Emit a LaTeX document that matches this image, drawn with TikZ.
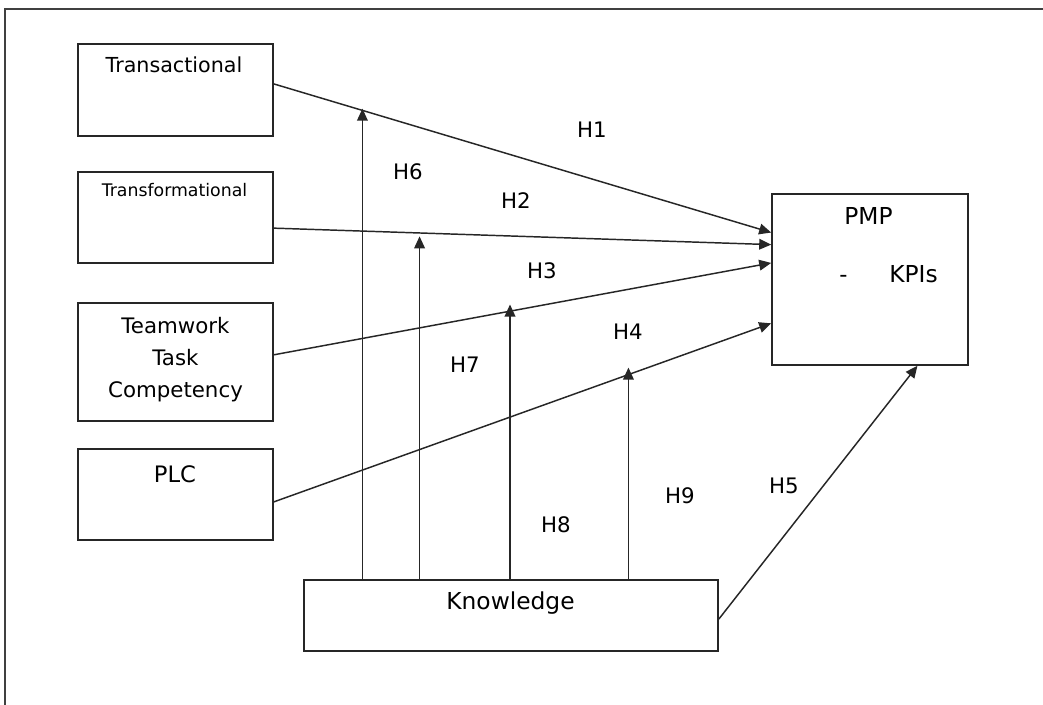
\documentclass[tikz,border=0pt]{standalone}
\usepackage{fontspec}
\setmainfont{DejaVu Sans}
\usetikzlibrary{arrows.meta,calc}
\begin{document}
\begin{tikzpicture}[x=0.75pt,y=-0.75pt,
  box/.style={draw=black!85,line width=1.2pt,rectangle,inner sep=0pt,fill=white},
  conn/.style={draw=black!85,line width=1.1pt,-{Triangle[length=9pt,width=8pt]}},
  frameline/.style={draw=black!75,line width=1.7pt},
  lbl/.style={anchor=base,inner sep=0pt,font=\fontsize{16}{19}\selectfont},
  hyp/.style={anchor=base,inner sep=0pt,font=\fontsize{16}{19}\selectfont}]
\useasboundingbox (0,0) rectangle (1043,705);
\fill[white] (0,0) rectangle (1043,705);
\draw[frameline] (5,705) -- (5,9) -- (1043,9);

% boxes
\node[box,minimum width=146.25pt,minimum height=69pt] (trans) at (175.5,90) {};
\node[box,minimum width=146.25pt,minimum height=68.25pt] (transf) at (175.5,217.5) {};
\node[box,minimum width=146.25pt,minimum height=88.5pt] (team) at (175.5,362) {};
\node[box,minimum width=146.25pt,minimum height=68.25pt] (plc) at (175.5,494.5) {};
\node[box,minimum width=147pt,minimum height=128.25pt] (pmp) at (870,279.5) {};
\node[box,minimum width=310.5pt,minimum height=53.25pt] (know) at (511,615.5) {};

% box texts
\node[lbl,font=\fontsize{15.5}{18}\selectfont] (tTrans) at (174,72.5) {Transactional};
\node[lbl,font=\fontsize{13}{16}\selectfont] (tTransf) at (174.5,197) {Transformational};
\node[lbl,align=center,anchor=base,font=\fontsize{16}{24}\selectfont] (tTeam) at (175.5,398) {Teamwork\\Task\\Competency};
\node[lbl,font=\fontsize{17}{20}\selectfont] (tPlc) at (175,483) {PLC};
\node[lbl,font=\fontsize{17.5}{20}\selectfont] (tPmp) at (868.5,225) {PMP};
\node[lbl,font=\fontsize{17}{20}\selectfont] (tDash) at (843.5,283) {-};
\node[lbl,font=\fontsize{17.5}{20}\selectfont] (tKpi) at (913.5,283) {KPIs};
\node[lbl,font=\fontsize{17.5}{20}\selectfont] (tKnow) at (510.5,610) {Knowledge};

% main connectors
\draw[conn] ($(trans.north east)!0.435!(trans.south east)$) -- coordinate[pos=0.18] (c6) ($(pmp.north west)!0.228!(pmp.south west)$);
\draw[conn] ($(transf.north east)!0.615!(transf.south east)$) -- coordinate[pos=0.295] (c7) ($(pmp.north west)!0.298!(pmp.south west)$);
\draw[conn] ($(team.north east)!0.44!(team.south east)$) -- coordinate[pos=0.475] (c8) ($(pmp.north west)!0.404!(pmp.south west)$);
\draw[conn] ($(plc.north east)!0.58!(plc.south east)$) -- coordinate[pos=0.711] (c9) ($(pmp.north west)!0.754!(pmp.south west)$);
\draw[conn] ($(know.north east)!0.55!(know.south east)$) -- ($(pmp.south west)!0.74!(pmp.south east)$);

% moderating arrows from Knowledge
\coordinate (k6) at ($(know.north west)!0.1425!(know.north east)$);
\coordinate (k7) at ($(know.north west)!0.28!(know.north east)$);
\coordinate (k8) at ($(know.north west)!0.4976!(know.north east)$);
\coordinate (k9) at ($(know.north west)!0.7826!(know.north east)$);
\draw[conn,shorten >=-1.5pt] (k6) -- (k6 |- c6);
\draw[conn,shorten >=2.5pt] (k7) -- (k7 |- c7);
\draw[conn,shorten >=-5pt] (k8) -- (k8 |- c8);
\draw[conn,shorten >=-5.5pt] (k9) -- (k9 |- c9);

% hypothesis labels
\node[hyp] (h1) at (592,138) {H1};
\node[hyp] (h6) at (408,180) {H6};
\node[hyp] (h2) at (516,209) {H2};
\node[hyp] (h3) at (542,279) {H3};
\node[hyp] (h4) at (628,340) {H4};
\node[hyp] (h7) at (465,373) {H7};
\node[hyp] (h8) at (556,533) {H8};
\node[hyp] (h9) at (680,504) {H9};
\node[hyp] (h5) at (784,494) {H5};
\end{tikzpicture}
\end{document}
